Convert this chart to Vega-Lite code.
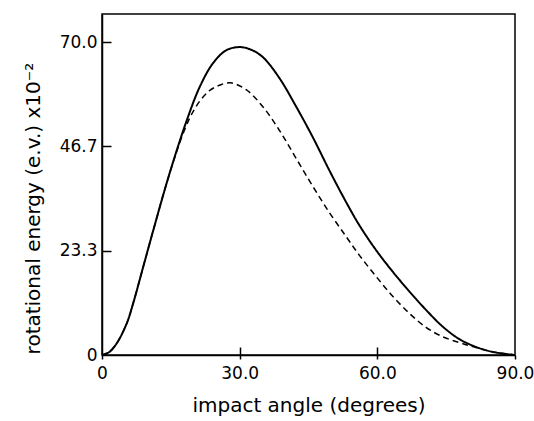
{
  "$schema": "https://vega.github.io/schema/vega-lite/v6.json",
  "width": 413,
  "height": 341,
  "autosize": {"type": "none"},
  "padding": {"left": 102, "top": 14, "right": 19, "bottom": 66},
  "background": "white",
  "config": {
    "view": {"stroke": "black", "strokeWidth": 1.5},
    "font": "DejaVu Sans",
    "axis": {"grid": false, "domainColor": "black", "domainWidth": 1.5, "tickColor": "black", "tickWidth": 1.5, "labelColor": "black", "titleColor": "black", "labelFont": "DejaVu Sans", "titleFont": "DejaVu Sans", "labelFontWeight": "normal", "titleFontWeight": "normal"}
  },
  "data": {"values": [
    {"angle": 0, "energy": 0, "curve": "solid"},
    {"angle": 1.5, "energy": 0.6, "curve": "solid"},
    {"angle": 3.2, "energy": 2.6, "curve": "solid"},
    {"angle": 5.4, "energy": 7.1, "curve": "solid"},
    {"angle": 6.8, "energy": 11.6, "curve": "solid"},
    {"angle": 9.0, "energy": 19.8, "curve": "solid"},
    {"angle": 11.2, "energy": 28.0, "curve": "solid"},
    {"angle": 14.1, "energy": 38.5, "curve": "solid"},
    {"angle": 16.2, "energy": 45.5, "curve": "solid"},
    {"angle": 18.4, "energy": 52.3, "curve": "solid"},
    {"angle": 21.3, "energy": 60.0, "curve": "solid"},
    {"angle": 24.2, "energy": 65.3, "curve": "solid"},
    {"angle": 27.1, "energy": 68.2, "curve": "solid"},
    {"angle": 30.0, "energy": 68.9, "curve": "solid"},
    {"angle": 32.5, "energy": 68.3, "curve": "solid"},
    {"angle": 35.1, "energy": 66.6, "curve": "solid"},
    {"angle": 38.7, "energy": 61.9, "curve": "solid"},
    {"angle": 42.3, "energy": 55.6, "curve": "solid"},
    {"angle": 45.9, "energy": 48.8, "curve": "solid"},
    {"angle": 49.6, "energy": 41.2, "curve": "solid"},
    {"angle": 53.2, "energy": 34.2, "curve": "solid"},
    {"angle": 56.1, "energy": 29.0, "curve": "solid"},
    {"angle": 59.7, "energy": 23.5, "curve": "solid"},
    {"angle": 63.3, "energy": 18.7, "curve": "solid"},
    {"angle": 67.0, "energy": 14.2, "curve": "solid"},
    {"angle": 70.6, "energy": 10.1, "curve": "solid"},
    {"angle": 74.2, "energy": 6.4, "curve": "solid"},
    {"angle": 77.8, "energy": 3.6, "curve": "solid"},
    {"angle": 81.5, "energy": 1.8, "curve": "solid"},
    {"angle": 85.1, "energy": 0.7, "curve": "solid"},
    {"angle": 90.0, "energy": 0, "curve": "solid"},
    {"angle": 0, "energy": 0, "curve": "dashed"},
    {"angle": 1.5, "energy": 0.6, "curve": "dashed"},
    {"angle": 3.2, "energy": 2.6, "curve": "dashed"},
    {"angle": 5.4, "energy": 7.1, "curve": "dashed"},
    {"angle": 6.8, "energy": 11.6, "curve": "dashed"},
    {"angle": 9.0, "energy": 19.8, "curve": "dashed"},
    {"angle": 11.2, "energy": 28.0, "curve": "dashed"},
    {"angle": 14.1, "energy": 38.5, "curve": "dashed"},
    {"angle": 16.2, "energy": 45.3, "curve": "dashed"},
    {"angle": 17.0, "energy": 47.7, "curve": "dashed"},
    {"angle": 19.1, "energy": 53.0, "curve": "dashed"},
    {"angle": 21.3, "energy": 56.8, "curve": "dashed"},
    {"angle": 23.5, "energy": 59.2, "curve": "dashed"},
    {"angle": 25.7, "energy": 60.4, "curve": "dashed"},
    {"angle": 28.0, "energy": 60.9, "curve": "dashed"},
    {"angle": 31.5, "energy": 59.3, "curve": "dashed"},
    {"angle": 35.1, "energy": 55.5, "curve": "dashed"},
    {"angle": 38.7, "energy": 50.2, "curve": "dashed"},
    {"angle": 42.3, "energy": 44.0, "curve": "dashed"},
    {"angle": 45.9, "energy": 37.8, "curve": "dashed"},
    {"angle": 49.6, "energy": 31.8, "curve": "dashed"},
    {"angle": 53.2, "energy": 26.5, "curve": "dashed"},
    {"angle": 56.1, "energy": 22.3, "curve": "dashed"},
    {"angle": 59.7, "energy": 17.6, "curve": "dashed"},
    {"angle": 63.3, "energy": 13.2, "curve": "dashed"},
    {"angle": 67.0, "energy": 9.3, "curve": "dashed"},
    {"angle": 70.6, "energy": 6.2, "curve": "dashed"},
    {"angle": 74.2, "energy": 4.1, "curve": "dashed"},
    {"angle": 77.8, "energy": 2.8, "curve": "dashed"},
    {"angle": 80.0, "energy": 2.1, "curve": "dashed"},
    {"angle": 81.5, "energy": 1.7, "curve": "dashed"},
    {"angle": 85.1, "energy": 0.7, "curve": "dashed"},
    {"angle": 90.0, "energy": 0, "curve": "dashed"}
  ]},
  "resolve": {"axis": {"x": "independent", "y": "independent"}},
  "layer": [
    {
      "mark": {"type": "line", "interpolate": "catmull-rom", "color": "black", "clip": true},
      "encoding": {
        "x": {
          "field": "angle", "type": "quantitative",
          "scale": {"domain": [0, 90], "nice": false, "zero": false},
          "axis": {
            "values": [0, 30, 60, 90],
            "labelExpr": "datum.value == 0 ? '0' : format(datum.value, '.1f')",
            "labelFontSize": 17, "labelPadding": 6, "tickSize": 4,
            "labelFlush": false,
            "title": "impact angle (degrees)", "titleFontSize": 20, "titlePadding": 14
          }
        },
        "y": {
          "field": "energy", "type": "quantitative",
          "scale": {"domain": [0, 76.3], "nice": false},
          "axis": {
            "values": [0, 23.333, 46.667, 70],
            "labelExpr": "datum.value == 0 ? '0' : format(datum.value, '.1f')",
            "labelFontSize": 17, "labelPadding": 5, "ticks": false,
            "labelFlush": false,
            "title": "rotational energy (e.v.) x10⁻²", "titleFontSize": 20,
            "titleX": -69, "titleY": 194, "titleAlign": "center", "titleBaseline": "middle", "titleAngle": -90
          }
        },
        "strokeDash": {
          "field": "curve", "type": "nominal",
          "scale": {"domain": ["solid", "dashed"], "range": [[1, 0], [6, 4]]},
          "legend": null
        },
        "strokeWidth": {
          "field": "curve", "type": "nominal",
          "scale": {"domain": ["solid", "dashed"], "range": [2, 1.5]},
          "legend": null
        }
      }
    },
    {
      "mark": {"type": "line", "strokeOpacity": 0, "clip": true},
      "encoding": {
        "x": {
          "field": "angle", "type": "quantitative",
          "axis": {"orient": "bottom", "offset": -8, "values": [30, 60], "tickSize": 8, "labels": false, "domain": false, "title": null}
        },
        "y": {
          "field": "energy", "type": "quantitative",
          "axis": {"orient": "left", "offset": -9, "values": [23.333, 46.667, 70], "tickSize": 9, "labels": false, "domain": false, "title": null}
        },
        "detail": {"field": "curve", "type": "nominal"}
      }
    }
  ]
}
